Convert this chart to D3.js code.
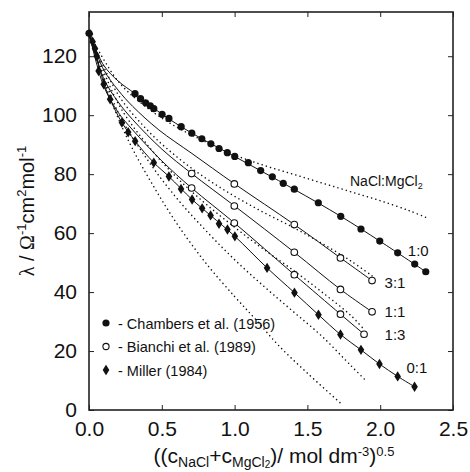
<!DOCTYPE html>
<html>
<head>
<meta charset="utf-8">
<script src="https://cdn.jsdelivr.net/npm/d3@7"></script>
<style>
  body { margin: 0; background: #fff; }
  text { font-family: "Liberation Sans", Arial, sans-serif; fill: #111; }
  .fit { fill: none; stroke: #111; stroke-width: 1; }
  .model { fill: none; stroke: #111; stroke-width: 1.5; stroke-dasharray: 0.1,4.3; stroke-linecap: round; }
</style>
</head>
<body>
<div id="chart"></div>
<script>
var width = 470,
    height = 472;

// measured points: [sqrt(c), lambda]
var chambers = [[0, 127.8], [0.316, 107.3], [0.354, 105.6], [0.389, 104.2], [0.421, 103.2], [0.445, 102.2],
  [0.502, 100.3], [0.549, 98.9], [0.633, 96.1], [0.706, 93.9], [0.775, 92.0], [0.837, 90.3], [0.893, 88.7],
  [0.950, 87.3], [1.001, 86.0], [1.094, 83.9], [1.179, 81.2], [1.259, 79.1], [1.334, 76.9], [1.410, 74.9],
  [1.575, 70.3], [1.729, 65.7], [1.868, 61.4], [1.997, 57.3], [2.120, 53.3], [2.237, 49.5], [2.313, 46.9]];

var bianchi31 = [[0.998, 76.7], [1.410, 62.9], [1.727, 51.6], [1.944, 43.9]];
var bianchi11 = [[0.705, 80.2], [0.998, 69.2], [1.410, 53.5], [1.727, 40.9], [1.944, 33.3]];
var bianchi13 = [[0.705, 75.3], [0.998, 63.4], [1.410, 45.9], [1.727, 32.5], [1.889, 25.7]];

var miller = [[0.007, 127.5], [0.025, 124.9], [0.041, 122.6], [0.053, 120.1], [0.066, 115.0], [0.101, 110.5],
  [0.145, 105.4], [0.226, 97.5], [0.269, 94.2], [0.317, 91.2], [0.445, 83.9], [0.549, 79.2], [0.632, 75.0],
  [0.708, 71.4], [0.777, 68.4], [0.835, 66.0], [0.893, 63.2], [0.951, 61.2], [1.002, 58.9], [1.223, 48.2],
  [1.411, 39.8], [1.576, 32.3], [1.727, 25.6], [1.868, 20.4], [1.995, 15.6], [2.120, 11.4], [2.236, 7.9]];

// fitted curves (solid)
var fit10 = [[0, 127.8], [0.1, 117], [0.2, 111.6], [0.316, 107.3], [0.5, 100.4], [0.7, 94.1], [1.0, 86.0],
  [1.4, 75.1], [1.729, 65.7], [2.0, 57.2], [2.313, 46.9]];
var fit31 = [[0, 127.8], [0.1, 115.5], [0.2, 108.5], [0.3, 103], [0.48, 95], [0.707, 87], [1.0, 76.7],
  [1.41, 62.9], [1.727, 51.6], [1.944, 43.9]];
var fit11 = [[0, 127.8], [0.1, 112.5], [0.2, 104.5], [0.3, 98.5], [0.5, 88.5], [0.705, 80.2],
  [1.0, 69.2], [1.41, 53.5], [1.727, 40.9], [1.944, 33.3]];
var fit13 = [[0, 127.8], [0.1, 110], [0.2, 101], [0.3, 95], [0.5, 84.5], [0.705, 75.3],
  [1.0, 63.4], [1.41, 45.9], [1.727, 32.5], [1.889, 25.7]];
var fit01 = [[0, 127.8], [0.05, 120.3], [0.1, 111], [0.145, 105.4], [0.226, 97.5], [0.317, 91.2],
  [0.445, 83.9], [0.549, 79.2], [0.708, 71.4], [0.835, 66.0], [1.002, 58.9], [1.223, 48.2], [1.411, 39.8],
  [1.576, 32.3], [1.727, 25.6], [1.868, 20.4], [1.995, 15.6], [2.120, 11.4], [2.236, 7.9]];

// model curves (dotted)
var model10 = [[0, 127.8], [0.2, 111.5], [0.4, 102.5], [0.6, 96], [0.8, 91], [1.0, 86.5], [1.2, 83],
  [1.4, 80], [1.6, 77], [1.8, 74], [2.0, 71], [2.2, 67.6], [2.32, 65.2]];
var model31 = [[0, 127.8], [0.2, 107], [0.4, 95], [0.6, 86], [0.8, 78.7], [1.0, 72.5], [1.2, 67],
  [1.4, 62], [1.6, 56.5], [1.8, 50.5], [1.944, 45.5]];
var model11 = [[0, 127.8], [0.2, 104], [0.4, 90], [0.6, 79], [0.8, 70], [1.0, 62], [1.2, 54.5],
  [1.4, 47.5], [1.6, 40], [1.8, 32], [1.891, 27.2]];
var model13 = [[0, 127.8], [0.2, 101], [0.4, 85], [0.6, 72], [0.8, 61], [1.0, 51], [1.2, 42],
  [1.4, 33.5], [1.6, 25], [1.8, 15], [1.891, 10.5]];
var model01 = [[0, 127.8], [0.1, 112], [0.2, 99], [0.3, 88.5], [0.442, 76], [0.6, 63.5], [0.8, 50],
  [1.0, 38.5], [1.14, 31], [1.3, 22], [1.5, 12.5], [1.724, 2.5]];

var xTicks = [0, 0.5, 1.0, 1.5, 2.0, 2.5];
var yTicks = [0, 20, 40, 60, 80, 100, 120];

var ratioLabels = [
  { text: "1:0", at: [2.19, 52.3] },
  { text: "3:1", at: [2.03, 41.5] },
  { text: "1:1", at: [2.03, 31.5] },
  { text: "1:3", at: [2.03, 23.8] },
  { text: "0:1", at: [2.18, 12.4] }
];

var legendItems = [
  { sym: "filled", text: "- Chambers et al. (1956)" },
  { sym: "open", text: "- Bianchi et al. (1989)" },
  { sym: "diamond", text: "- Miller (1984)" }
];

var x = d3.scaleLinear().domain([0, 2.5]).range([89, 453]);
var y = d3.scaleLinear().domain([0, 135]).range([410, 12]);

var svg = d3.select("#chart")
    .append("svg")
    .attr("width", width)
    .attr("height", height);

var line = d3.line()
    .x(function(d) { return x(d[0]); })
    .y(function(d) { return y(d[1]); })
    .curve(d3.curveCatmullRom.alpha(0.5));

// axes, ticks pointing inward on all four sides
svg.append("g")
    .attr("transform", "translate(0,410)")
    .call(d3.axisBottom(x).tickValues(xTicks).tickSize(-5).tickFormat(d3.format(".1f")).tickPadding(11))
    .call(function(g) {
      g.select(".domain").remove();
      g.selectAll("text").attr("font-size", 21).attr("font-family", "Liberation Sans, Arial, sans-serif").attr("fill", "#111");
    });
svg.append("g")
    .attr("transform", "translate(0,12)")
    .call(d3.axisTop(x).tickValues(xTicks).tickSize(-5).tickFormat(""))
    .call(function(g) { g.select(".domain").remove(); });
svg.append("g")
    .attr("transform", "translate(89,0)")
    .call(d3.axisLeft(y).tickValues(yTicks).tickSize(-5).tickPadding(12))
    .call(function(g) {
      g.select(".domain").remove();
      g.selectAll("text").attr("font-size", 21).attr("font-family", "Liberation Sans, Arial, sans-serif").attr("fill", "#111");
    });
svg.append("g")
    .attr("transform", "translate(453,0)")
    .call(d3.axisRight(y).tickValues(yTicks).tickSize(-5).tickFormat(""))
    .call(function(g) { g.select(".domain").remove(); });

svg.selectAll(".tick line").attr("stroke", "#222");

svg.append("rect")
    .attr("x", x(0)).attr("y", y(135))
    .attr("width", x(2.5) - x(0)).attr("height", y(0) - y(135))
    .attr("fill", "none").attr("stroke", "#222").attr("stroke-width", 1.6);

// curves
[model10, model31, model11, model13, model01].forEach(function(m) {
  svg.append("path").attr("class", "model").attr("d", line(m));
});
[fit10, fit31, fit11, fit13, fit01].forEach(function(f) {
  svg.append("path").attr("class", "fit").attr("d", line(f));
});

// symbols
var diamond = "M0,-5.2L3.3,0L0,5.2L-3.3,0Z";

svg.selectAll(".chambers")
    .data(chambers)
  .enter().append("circle")
    .attr("cx", function(d) { return x(d[0]); })
    .attr("cy", function(d) { return y(d[1]); })
    .attr("r", 3.6)
    .attr("fill", "#111");

svg.selectAll(".bianchi")
    .data(bianchi31.concat(bianchi11, bianchi13))
  .enter().append("circle")
    .attr("cx", function(d) { return x(d[0]); })
    .attr("cy", function(d) { return y(d[1]); })
    .attr("r", 3.3)
    .attr("fill", "#fff")
    .attr("stroke", "#111")
    .attr("stroke-width", 1.1);

svg.selectAll(".miller")
    .data(miller)
  .enter().append("path")
    .attr("d", diamond)
    .attr("transform", function(d) { return "translate(" + x(d[0]) + "," + y(d[1]) + ")"; })
    .attr("fill", "#111");

// ratio labels
svg.selectAll(".ratio")
    .data(ratioLabels)
  .enter().append("text")
    .attr("x", function(d) { return x(d.at[0]); })
    .attr("y", function(d) { return y(d.at[1]); })
    .attr("font-size", 15)
    .text(function(d) { return d.text; });

var nm = svg.append("text").attr("x", 350).attr("y", 186).attr("font-size", 14);
nm.append("tspan").text("NaCl:MgCl");
nm.append("tspan").attr("font-size", 9).attr("dy", 3).text("2");

// legend
var leg = svg.append("g").attr("transform", "translate(106,323)");
legendItems.forEach(function(d, i) {
  var g = leg.append("g").attr("transform", "translate(0," + (i * 23.5) + ")");
  if (d.sym === "filled") g.append("circle").attr("r", 3.6).attr("fill", "#111");
  if (d.sym === "open") g.append("circle").attr("r", 3.1).attr("fill", "#fff").attr("stroke", "#111").attr("stroke-width", 1.1);
  if (d.sym === "diamond") g.append("path").attr("d", diamond).attr("fill", "#111");
  g.append("text").attr("x", 12).attr("y", 5.5).attr("font-size", 14.5).text(d.text);
});

// axis titles
var xt = svg.append("text").attr("x", 274).attr("y", 463).attr("text-anchor", "middle").attr("font-size", 21);
xt.append("tspan").text("((c");
xt.append("tspan").attr("font-size", 14).attr("dy", 4).text("NaCl");
xt.append("tspan").attr("dy", -4).text("+c");
xt.append("tspan").attr("font-size", 14).attr("dy", 4).text("MgCl");
xt.append("tspan").attr("font-size", 10).attr("dy", 1).text("2");
xt.append("tspan").attr("dy", -5).text(")/ mol dm");
xt.append("tspan").attr("font-size", 13).attr("dy", -7).text("-3");
xt.append("tspan").attr("dy", 7).text(")");
xt.append("tspan").attr("font-size", 13).attr("dy", -7).text("0.5");

var yt = svg.append("text")
    .attr("transform", "translate(34,211) rotate(-90)")
    .attr("text-anchor", "middle")
    .attr("font-size", 20);
yt.append("tspan").attr("font-family", "Liberation Serif, serif").text("λ");
yt.append("tspan").text(" / ");
yt.append("tspan").attr("font-family", "Liberation Serif, serif").text("Ω");
yt.append("tspan").attr("font-size", 13).attr("dy", -8).text("-1");
yt.append("tspan").attr("dy", 8).text("cm");
yt.append("tspan").attr("font-size", 13).attr("dy", -8).text("2");
yt.append("tspan").attr("dy", 8).text("mol");
yt.append("tspan").attr("font-size", 13).attr("dy", -8).text("-1");
</script>
</body>
</html>
